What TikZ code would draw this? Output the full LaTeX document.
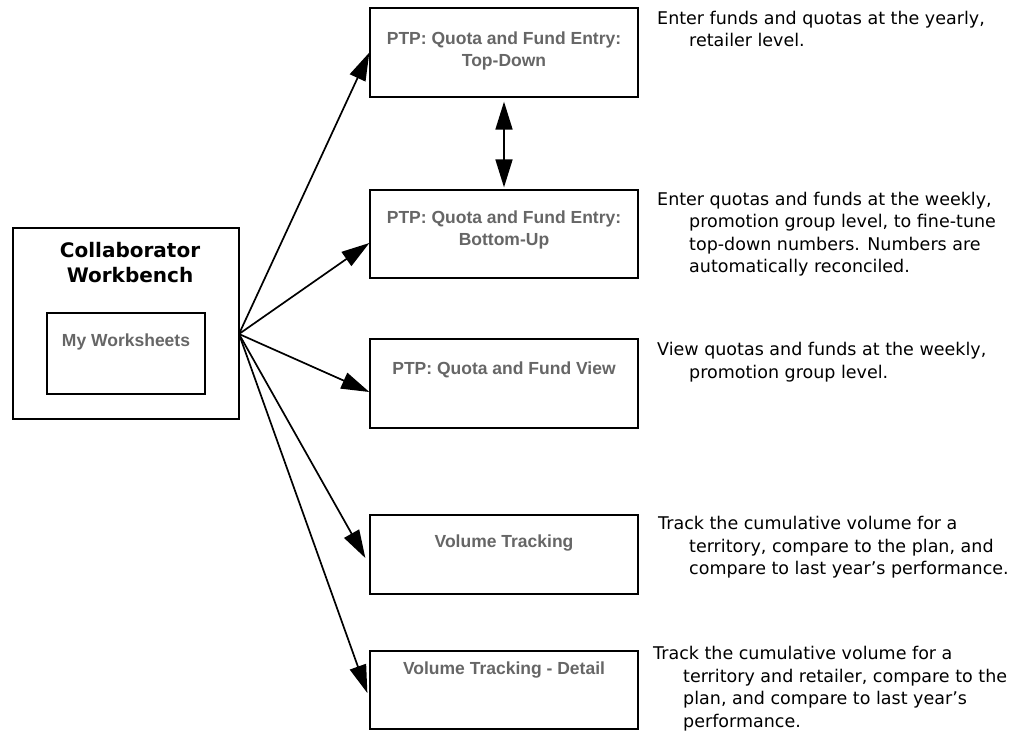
\documentclass[tikz,border=0pt]{standalone}
\usepackage{fontspec}
\setmainfont{DejaVu Sans}
\newfontfamily\arialfont{Liberation Sans}
\usetikzlibrary{arrows.meta}

\begin{document}
\begin{tikzpicture}[x=1pt,y=-1pt,
  box/.style={draw,line width=1.3pt,inner sep=0pt,minimum width=268pt},
  boxtext/.style={font=\arialfont\bfseries\fontsize{17.5}{22}\selectfont,text=black!60,align=center},
  desc/.style={font=\fontsize{17.5}{22.5}\selectfont,anchor=north west,align=left,inner sep=0pt},
  arr/.style={line width=1.7pt,-{Triangle[length=28pt,width=17pt]}}]
  \useasboundingbox (0,0) rectangle (1024,734);

  \node[draw,line width=1.3pt,minimum width=226pt,minimum height=191pt] (cw) at (126,323.5) {};
  \node[font=\bfseries\fontsize{20}{25}\selectfont,align=center] (cwt) at (130,262.5) {Collaborator\\Workbench};
  \node[draw,line width=1.3pt,minimum width=158pt,minimum height=81pt] (ws) at (126,353.5) {};
  \node[boxtext] (wst) at (126,342) {My Worksheets};
  \coordinate (hub) at (239,334);

  \node[box,minimum height=89pt] (td) at (504,52.5) {};
  \node[boxtext] at (504,51) {PTP: Quota and Fund Entry:\\Top-Down};
  \node[box,minimum height=88pt] (bu) at (504,234) {};
  \node[boxtext] at (504,229.5) {PTP: Quota and Fund Entry:\\Bottom-Up};
  \node[box,minimum height=89pt] (qv) at (504,383.5) {};
  \node[boxtext] at (504,370) {PTP: Quota and Fund View};
  \node[box,minimum height=79pt] (vt) at (504,554.5) {};
  \node[boxtext] at (504,543) {Volume Tracking};
  \node[box,minimum height=78pt] (vd) at (504,690) {};
  \node[boxtext] at (504,670) {Volume Tracking - Detail};

  \node[desc] (d1) at (657,11) {Enter funds and quotas at the yearly,\\
    \hspace*{32pt}retailer level.};
  \node[desc] (d2) at (657,191.5) {Enter quotas and funds at the weekly,\\
    \hspace*{32pt}promotion group level, to fine-tune\\
    \hspace*{32pt}top-down numbers. Numbers are\\
    \hspace*{32pt}automatically reconciled.};
  \node[desc] (d3) at (657,342) {View quotas and funds at the weekly,\\
    \hspace*{32pt}promotion group level.};
  \node[desc] (d4) at (658,516) {Track the cumulative volume for a\\
    \hspace*{31pt}territory, compare to the plan, and\\
    \hspace*{31pt}compare to last year’s performance.};
  \node[desc] (d5) at (653,646) {Track the cumulative volume for a\\
    \hspace*{30pt}territory and retailer, compare to the\\
    \hspace*{30pt}plan, and compare to last year’s\\
    \hspace*{30pt}performance.};

  \draw[arr] (hub) -- (td.west);
  \draw[arr] (hub) -- ([yshift=-9pt]bu.west);
  \draw[arr] (hub) -- ([yshift=-8.5pt]qv.west);
  \draw[arr] (hub) -- ([shift={(-4pt,-3.5pt)}]vt.west);
  \draw[arr] (hub) -- ([shift={(-2pt,-3pt)}]vd.west);
  \draw[line width=1.7pt,{Triangle[length=28pt,width=17pt]}-{Triangle[length=28pt,width=17pt]},
    shorten <=4pt,shorten >=2pt] (td) -- (bu);
\end{tikzpicture}
\end{document}
